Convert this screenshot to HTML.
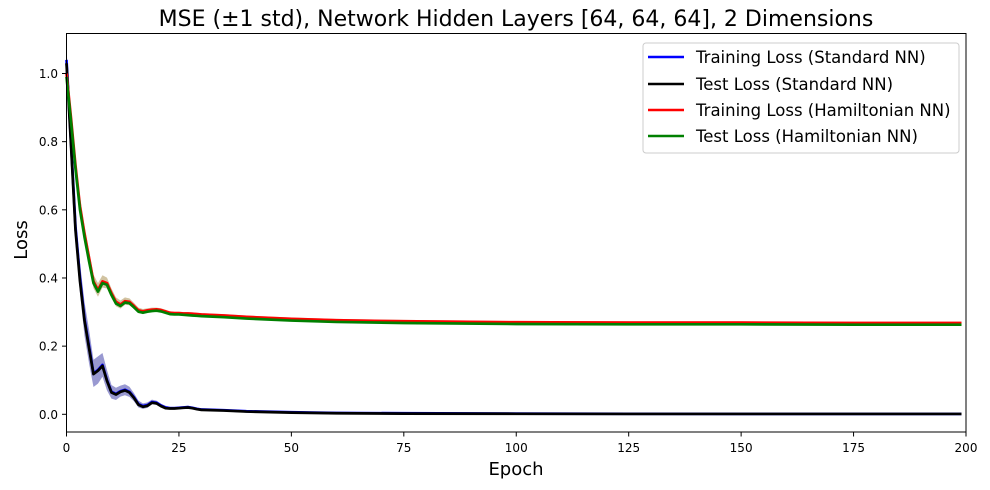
<!DOCTYPE html>
<html><head><meta charset="utf-8"><style>
body{margin:0;background:#fff;}
svg{display:block;font-family:"DejaVu Sans","Liberation Sans",sans-serif;}
</style></head><body>
<svg id="chart" width="990" height="490" xmlns="http://www.w3.org/2000/svg">
<rect width="990" height="490" fill="#fff"/>
<text x="516" y="26" font-size="22" text-anchor="middle">MSE (±1 std), Network Hidden Layers [64, 64, 64], 2 Dimensions</text>
<g id="bands"></g><g id="lines"></g>
<rect x="66.5" y="33.5" width="899.5" height="398.5" fill="none" stroke="#000" stroke-width="1"/>
<g id="xticks"></g><g id="yticks"></g>
<text x="516" y="475" font-size="18" text-anchor="middle">Epoch</text>
<text transform="translate(27,240) rotate(-90)" font-size="18" text-anchor="middle">Loss</text>
<g>
<rect x="643" y="43" width="316" height="110" rx="3" fill="#fff" fill-opacity="0.8" stroke="#ccc"/>
<g><line x1="648" x2="684" y1="57" y2="57" stroke="#0000ff" stroke-width="2.5"/><text x="696" y="63" font-size="16.5">Training Loss (Standard NN)</text></g>
<g><line x1="648" x2="684" y1="84" y2="84" stroke="#000" stroke-width="2.5"/><text x="696" y="90" font-size="16.5">Test Loss (Standard NN)</text></g>
<g><line x1="648" x2="684" y1="110" y2="110" stroke="#ff0000" stroke-width="2.5"/><text x="696" y="116" font-size="16.5">Training Loss (Hamiltonian NN)</text></g>
<g><line x1="648" x2="684" y1="136" y2="136" stroke="#008000" stroke-width="2.5"/><text x="696" y="142" font-size="16.5">Test Loss (Hamiltonian NN)</text></g>
</g>
</svg>
<script>
const epochs=[0,1,2,3,4,5,6,7,8,9,10,11,12,13,14,15,16,17,18,19,20,21,22,23,24,25,26,27,28,29,30,35,40,50,60,75,100,125,150,175,199];
const stdTrain=[1.04,0.80,0.55,0.40,0.28,0.20,0.12,0.13,0.145,0.10,0.066,0.06,0.068,0.072,0.066,0.05,0.03,0.024,0.027,0.036,0.034,0.026,0.02,0.018,0.018,0.019,0.02,0.021,0.019,0.016,0.014,0.012,0.009,0.006,0.004,0.003,0.002,0.0015,0.001,0.001,0.001];
const stdTest=[1.03,0.79,0.54,0.39,0.275,0.195,0.118,0.128,0.142,0.098,0.064,0.058,0.066,0.07,0.064,0.048,0.028,0.022,0.025,0.034,0.032,0.024,0.018,0.017,0.017,0.018,0.019,0.02,0.018,0.015,0.013,0.011,0.008,0.005,0.003,0.002,0.0015,0.001,0.001,0.001,0.001];
const stdDev=[0.035,0.035,0.035,0.045,0.05,0.05,0.04,0.04,0.035,0.03,0.02,0.018,0.016,0.016,0.015,0.012,0.01,0.008,0.008,0.007,0.006,0.005,0.005,0.004,0.004,0.004,0.004,0.004,0.003,0.003,0.003,0.003,0.002,0.002,0.001,0.001,0.001,0.001,0.001,0.001,0.001];
const hamTrain=[1.0,0.87,0.73,0.61,0.53,0.46,0.39,0.365,0.39,0.385,0.355,0.33,0.322,0.332,0.33,0.318,0.305,0.302,0.305,0.307,0.308,0.306,0.302,0.298,0.297,0.297,0.296,0.296,0.295,0.294,0.293,0.29,0.286,0.28,0.276,0.273,0.27,0.269,0.269,0.268,0.268];
const hamTest=[0.99,0.86,0.72,0.60,0.52,0.45,0.385,0.36,0.385,0.38,0.35,0.325,0.318,0.328,0.326,0.314,0.301,0.298,0.301,0.303,0.304,0.302,0.298,0.294,0.293,0.293,0.292,0.291,0.29,0.289,0.288,0.285,0.281,0.275,0.271,0.268,0.265,0.264,0.264,0.263,0.263];
const hamDev=[0.03,0.03,0.03,0.03,0.025,0.022,0.02,0.02,0.018,0.016,0.014,0.013,0.012,0.011,0.01,0.009,0.008,0.007,0.006,0.006,0.005,0.005,0.005,0.004,0.004,0.004,0.004,0.004,0.004,0.004,0.004,0.004,0.004,0.004,0.004,0.004,0.004,0.004,0.004,0.004,0.004];
const xTicks=[0,25,50,75,100,125,150,175,200];
const yTicks=[0.0,0.2,0.4,0.6,0.8,1.0];
const NS='http://www.w3.org/2000/svg';
const X=e=>66.5+e*4.4975;
const Y=v=>414.3-v*340.8;
function mk(t,a,p){const el=document.createElementNS(NS,t);for(const k in a)el.setAttribute(k,a[k]);p.appendChild(el);return el;}
const bands=document.getElementById('bands'),lines=document.getElementById('lines');
function band(mean,dev,color,name){
  const up=epochs.map((e,i)=>X(e)+','+Y(mean[i]+dev[i]));
  const dn=epochs.map((e,i)=>X(e)+','+Y(mean[i]-dev[i])).reverse();
  const p=mk('polygon',{points:up.concat(dn).join(' '),fill:color,'fill-opacity':0.4},bands);
  
  
}
function line(vals,color,name){
  const p=mk('polyline',{points:epochs.map((e,i)=>X(e)+','+Y(vals[i])).join(' '),fill:'none',stroke:color,'stroke-width':2.7,'stroke-linejoin':'round'},lines);
  
  
}
band(stdTrain,stdDev,'#00008b','std-train-band');
band(hamTrain,hamDev,'#8b6914','ham-train-band');
line(stdTrain,'#0000ff','std-train-line');
line(stdTest,'#000000','std-test-line');
line(hamTrain,'#ff0000','ham-train-line');
line(hamTest,'#008000','ham-test-line');
const xt=document.getElementById('xticks'),yt=document.getElementById('yticks');
xTicks.forEach(t=>{
  mk('line',{x1:X(t),x2:X(t),y1:432,y2:436.5,stroke:'#000'},xt);
  const s=mk('text',{x:X(t),y:452,'font-size':12,'text-anchor':'middle'},xt);s.textContent=t;
  
  
});
yTicks.forEach(t=>{
  mk('line',{x1:62,x2:66.5,y1:Y(t),y2:Y(t),stroke:'#000'},yt);
  const s=mk('text',{x:58,y:Y(t)+4.5,'font-size':12,'text-anchor':'end'},yt);s.textContent=t.toFixed(1);
  
  
});
</script>
</body></html>
